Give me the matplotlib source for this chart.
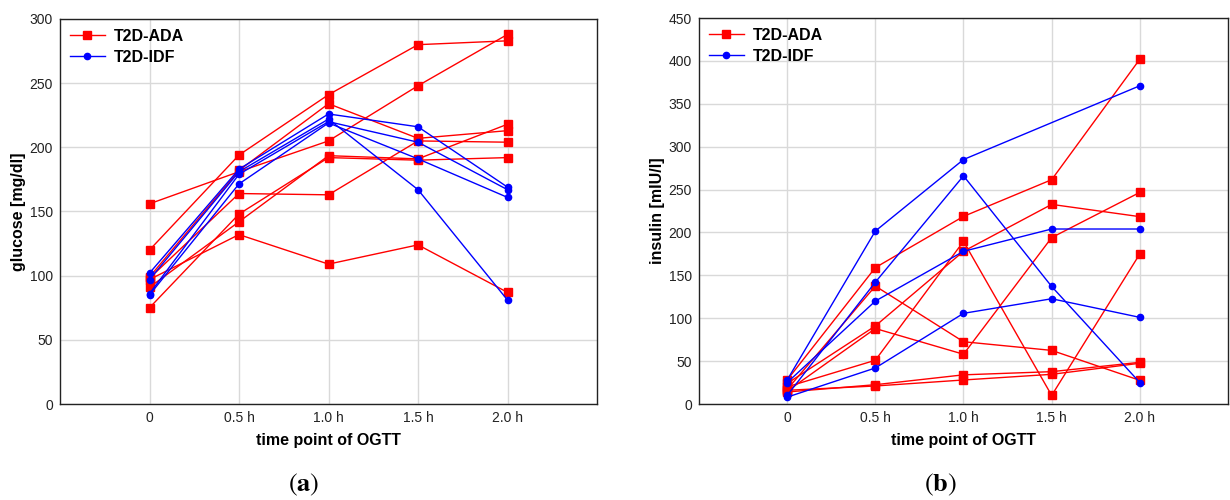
import numpy as np
import matplotlib
matplotlib.use("Agg")
import matplotlib.pyplot as plt

plt.rcParams['font.family'] = ['Liberation Sans', 'DejaVu Sans']
plt.rcParams['mathtext.fontset'] = 'stix'

time_labels = ["0", "0.5 h", "1.0 h", "1.5 h", "2.0 h"]

# Panel (a): glucose [mg/dl]
glucose_ada = [
    [120, 194, 241, 280, 283],
    [156, 181, 205, 248, 288],
    [99, 182, 234, 207, 213],
    [98, 164, 163, 205, 204],
    [97, 132, 109, 124, 87],
    [91, 142, 193.5, 191, 218],
    [75, 148, 192, 190, 192],
]
glucose_idf = [
    [102, 183, 226, 216, 169],
    [97, 181, 222, 167, 81],
    [86, 179, 220, 204, 167],
    [85, 171.5, 219, 191, 161],
]

# Panel (b): insulin [mIU/l]
insulin_ada = [
    [28, 159, 218.7, 261.5, 402],
    [17, 137.5, 72.6, 62.5, 27.6],
    [24, 91, 178, 232.7, 218.4],
    [15, 88, 58, 194, 246.7],
    [20, 51, 189.6, 10, 175],
    [14, 22.5, 34, 37.7, 48.6],
    [16, 21, 28, 34.6, 47.5],
]
insulin_idf = [
    [28, 201.6, 285, np.nan, 371],
    [10, 142, 266, 137, 25],
    [25, 120, 178, 204, 204],
    [8, 42, 105.7, 122.7, 101],
]

RED = "#ff0000"
BLUE = "#0000ff"

fig = plt.figure(figsize=(12.3, 5.0), dpi=100)
ax1 = fig.add_axes([60 / 1230, 96 / 500, 537 / 1230, 385 / 500])
ax2 = fig.add_axes([699 / 1230, 96 / 500, 529 / 1230, 386 / 500])


def draw(ax, ada, idf, ymax, ylabel):
    x = np.arange(len(time_labels))
    for i, s in enumerate(ada):
        arr = np.array(s, dtype=float)
        m = ~np.isnan(arr)
        ax.plot(x[m], arr[m], color=RED, lw=1.0, marker="s", ms=5.5,
                mec=RED, mfc=RED, label="T2D-ADA" if i == 0 else None, zorder=3)
    for i, s in enumerate(idf):
        arr = np.array(s, dtype=float)
        m = ~np.isnan(arr)
        ax.plot(x[m], arr[m], color=BLUE, lw=1.0, marker="o", ms=4.5,
                mec=BLUE, mfc=BLUE, label="T2D-IDF" if i == 0 else None, zorder=3)
    ax.set_xlim(-1, 5)
    ax.set_ylim(0, ymax)
    ax.set_xticks(x)
    ax.set_xticklabels(time_labels)
    ax.set_yticks(np.arange(0, ymax + 1, 50))
    ax.grid(True, color="#d9d9d9", lw=1.0, zorder=0)
    ax.set_axisbelow(True)
    ax.tick_params(axis="both", labelsize=10, colors="#222222", length=0, pad=5)
    for sp in ax.spines.values():
        sp.set_color("#222222")
        sp.set_linewidth(1.0)
    ax.set_xlabel("time point of OGTT", fontsize=11.5, fontweight="bold", labelpad=6)
    ax.set_ylabel(ylabel, fontsize=11.5, fontweight="bold", labelpad=3)
    leg = ax.legend(loc="upper left", frameon=False, fontsize=11.5,
                    handlelength=2.2, handletextpad=0.6, borderaxespad=0.2,
                    labelspacing=0.4)
    for t in leg.get_texts():
        t.set_fontweight("bold")


draw(ax1, glucose_ada, glucose_idf, 300, "glucose [mg/dl]")
draw(ax2, insulin_ada, insulin_idf, 450, "insulin [mIU/l]")

fig.text(304 / 1230, 0.03, r"$(\mathbf{a})$", ha="center", va="center",
         fontsize=19)
fig.text(940 / 1230, 0.03, r"$(\mathbf{b})$", ha="center", va="center",
         fontsize=19)

fig.savefig("out.png", dpi=100)
